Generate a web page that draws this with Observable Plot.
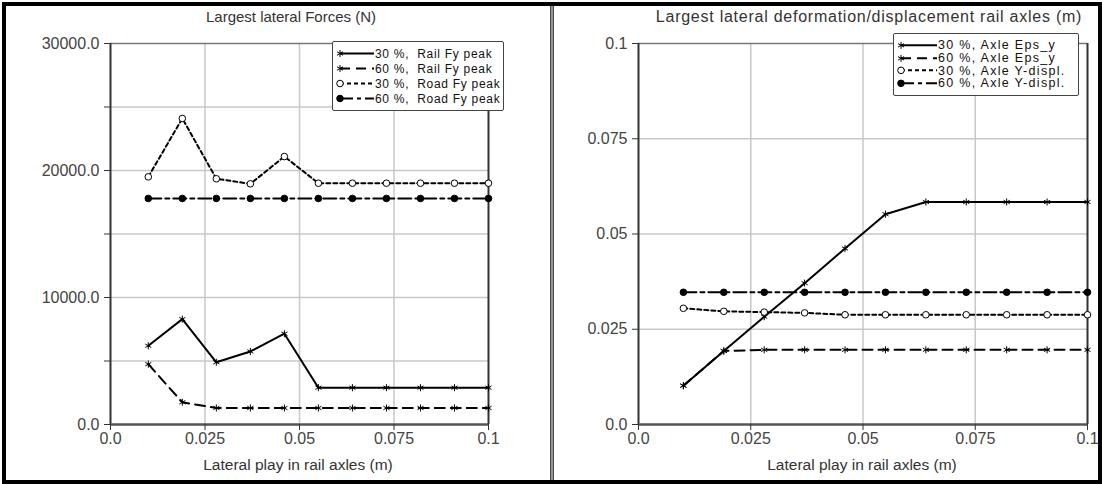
<!DOCTYPE html>
<html><head><meta charset="utf-8">
<script src="https://cdn.jsdelivr.net/npm/d3@7"></script>
<script src="https://cdn.jsdelivr.net/npm/@observablehq/plot@0.6"></script>
<style>
body{margin:0;background:#fff;font-family:"Liberation Sans",Arial,sans-serif;}
#frame{position:absolute;left:0;top:0;width:1102px;height:484px;overflow:hidden;background:#fff;}
.border{position:absolute;left:2px;top:2px;width:1100px;height:482px;border:4px solid #000;box-sizing:border-box;z-index:5;pointer-events:none;}
.divider{position:absolute;left:550px;top:6px;width:4px;height:474px;background:#999;border-left:1.5px solid #444;border-right:1.5px solid #444;box-sizing:border-box;z-index:5;}
.panel{position:absolute;top:0;}
.title{position:absolute;color:#333;white-space:nowrap;transform:translateX(-50%);}
.xlab{position:absolute;font-size:15.5px;color:#333;white-space:nowrap;transform:translateX(-50%);}
.legend{position:absolute;border:1px solid #444;background:#fff;box-sizing:border-box;border-radius:2px;}
.legend .row{display:flex;align-items:center;white-space:nowrap;color:#111;}
.legend svg{flex:none;}
</style>
</head><body>
<div id="frame">
  <div class="border"></div>
  <div class="divider"></div>
</div>
<script>
// ---- data ----
const xPlay = [0.01, 0.019, 0.028, 0.037, 0.046, 0.055, 0.064, 0.073, 0.082, 0.091, 0.1];

const railFy30 = [6200, 8300, 4900, 5750, 7150, 2900, 2900, 2900, 2900, 2900, 2900];
const railFy60 = [4750, 1750, 1300, 1300, 1300, 1300, 1300, 1300, 1300, 1300, 1300];
const roadFy30 = [19500, 24100, 19350, 18950, 21100, 19000, 19000, 19000, 19000, 19000, 19000];
const roadFy60 = [17800, 17800, 17800, 17800, 17800, 17800, 17800, 17800, 17800, 17800, 17800];

const epsY30 = [0.0102, 0.0193, 0.0283, 0.0371, 0.0462, 0.0552, 0.0584, 0.0584, 0.0584, 0.0584, 0.0584];
const epsY60 = [0.0102, 0.0193, 0.0196, 0.0196, 0.0196, 0.0196, 0.0196, 0.0196, 0.0196, 0.0196, 0.0196];
const yDispl30 = [0.0305, 0.0297, 0.0295, 0.0293, 0.0288, 0.0288, 0.0288, 0.0288, 0.0288, 0.0288, 0.0288];
const yDispl60 = [0.0347, 0.0347, 0.0347, 0.0347, 0.0347, 0.0347, 0.0347, 0.0347, 0.0347, 0.0347, 0.0347];

const leftNames = ["30 %,  Rail Fy peak", "60 %,  Rail Fy peak", "30 %,  Road Fy peak", "60 %,  Road Fy peak"];
const rightNames = ["30 %, Axle Eps_y", "60 %, Axle Eps_y", "30 %, Axle Y-displ.", "60 %, Axle Y-displ."];

const xTicks = [0, 0.025, 0.05, 0.075, 0.1];
const xTickLabels = ["0.0", "0.025", "0.05", "0.075", "0.1"];
const leftYTicks = [0, 5000, 10000, 15000, 20000, 25000, 30000];
const leftYTickLabels = ["0.0", "", "10000.0", "", "20000.0", "", "30000.0"];
const rightYTicks = [0, 0.025, 0.05, 0.075, 0.1];
const rightYTickLabels = ["0.0", "0.025", "0.05", "0.075", "0.1"];

const leftTitle = "Largest lateral Forces (N)";
const rightTitle = "Largest lateral deformation/displacement rail axles (m)";
const xLabel = "Lateral play in rail axles (m)";

// ---- styles ----
const seriesStyle = [
  {dash: null, symbol: "asterisk", fill: "none"},
  {dash: "10,6", symbol: "asterisk", fill: "none"},
  {dash: "4,3", symbol: "circle", fill: "white"},
  {dash: "13,4,4,4", symbol: "circle", fill: "black"}
];

function seriesMarks(values, k) {
  const st = seriesStyle[k];
  const data = xPlay.map((x, i) => ({x, y: values[i]}));
  const marks = [
    Plot.line(data, {x: "x", y: "y", stroke: "black", strokeWidth: 2, strokeDasharray: st.dash || undefined})
  ];
  if (st.symbol === "asterisk") {
    marks.push(Plot.dot(data, {x: "x", y: "y", symbol: "asterisk", r: 3.3, stroke: "black", strokeWidth: 1}));
  } else {
    marks.push(Plot.dot(data, {x: "x", y: "y", symbol: "circle", r: 3.3, stroke: "black", strokeWidth: 1, fill: st.fill}));
  }
  return marks;
}

function makePanel(opts) {
  const {width, marginLeft, marginRight, yDomain, yTicks, yLabels, gridY, series} = opts;
  return Plot.plot({
    width, height: 484,
    marginTop: 43, marginBottom: 60, marginLeft, marginRight,
    style: {fontFamily: "'Liberation Sans', Arial, sans-serif", fontSize: "16px", color: "#333", background: "transparent", overflow: "visible"},
    x: {domain: [0, 0.1]},
    y: {domain: yDomain},
    marks: [
      Plot.gridY(gridY, {stroke: "#c8c8c8", strokeOpacity: 1, strokeWidth: 1.5}),
      Plot.gridX([0.025, 0.05, 0.075], {stroke: "#c8c8c8", strokeOpacity: 1, strokeWidth: 1.5}),
      Plot.ruleY([yDomain[1]], {stroke: "#777", strokeWidth: 1.5}),
      Plot.ruleX([0.1], {stroke: "#333", strokeWidth: 2}),
      Plot.ruleX([0], {stroke: "#333", strokeWidth: 2}),
      Plot.ruleY([0], {stroke: "#555", strokeWidth: 2.5}),
      Plot.axisY({ticks: yTicks, tickSize: 6, tickPadding: 5, stroke: "#333",
        tickFormat: d => yLabels[yTicks.indexOf(d)], label: null, fill: "#444"}),
      Plot.axisX({ticks: xTicks, tickSize: 6, tickPadding: 2, stroke: "#333",
        tickFormat: d => xTickLabels[xTicks.indexOf(d)], label: null, fill: "#444"}),
      ...series.flatMap((v, k) => seriesMarks(v, k))
    ]
  });
}

const frame = document.getElementById("frame");

function place(el, left) {
  const d = document.createElement("div");
  d.className = "panel";
  d.style.left = left + "px";
  d.appendChild(el);
  frame.appendChild(d);
}

const leftPlot = makePanel({
  width: 550, marginLeft: 110, marginRight: 62,
  yDomain: [0, 30000], yTicks: leftYTicks, yLabels: leftYTickLabels,
  gridY: [5000, 10000, 15000, 20000, 25000],
  series: [railFy30, railFy60, roadFy30, roadFy60]
});
place(leftPlot, 0);

const rightPlot = makePanel({
  width: 548, marginLeft: 84, marginRight: 15,
  yDomain: [0, 0.1], yTicks: rightYTicks, yLabels: rightYTickLabels,
  gridY: [0.025, 0.05, 0.075],
  series: [epsY30, epsY60, yDispl30, yDispl60]
});
place(rightPlot, 554);

function addText(cls, text, x, y, size, spacing) {
  const d = document.createElement("div");
  d.className = cls;
  d.textContent = text;
  d.style.left = x + "px";
  d.style.top = y + "px";
  if (size) d.style.fontSize = size + "px";
  if (spacing) d.style.letterSpacing = spacing + "px";
  frame.appendChild(d);
}
addText("title", leftTitle, 291, 8, 15);
addText("title", rightTitle, 869, 8, 16, 0.75);
addText("xlab", xLabel, 298, 456);
addText("xlab", xLabel, 862, 456);

function legendSample(k, w, h) {
  const st = seriesStyle[k];
  const ns = "http://www.w3.org/2000/svg";
  const svg = document.createElementNS(ns, "svg");
  svg.setAttribute("width", w); svg.setAttribute("height", h);
  const cy = h / 2;
  const line = document.createElementNS(ns, "line");
  line.setAttribute("x1", 5); line.setAttribute("x2", w - 1);
  line.setAttribute("y1", cy); line.setAttribute("y2", cy);
  line.setAttribute("stroke", "black"); line.setAttribute("stroke-width", 2);
  if (st.dash) line.setAttribute("stroke-dasharray", st.dash);
  svg.appendChild(line);
  const p = document.createElementNS(ns, "path");
  if (st.symbol === "asterisk") {
    p.setAttribute("d", d3.symbol(d3.symbolAsterisk, 34)());
    p.setAttribute("fill", "none"); p.setAttribute("stroke", "black");
  } else {
    p.setAttribute("d", d3.symbol(d3.symbolCircle, 34)());
    p.setAttribute("fill", st.fill); p.setAttribute("stroke", "black");
  }
  p.setAttribute("transform", `translate(5,${cy})`);
  svg.appendChild(p);
  return svg;
}

function addLegend(names, left, top, width, rowH, fontSize, spacing, sampleW, padTop) {
  const box = document.createElement("div");
  box.className = "legend";
  box.style.left = left + "px"; box.style.top = top + "px"; box.style.width = width + "px";
  box.style.padding = padTop + "px 2px " + padTop + "px 2px";
  names.forEach((n, k) => {
    const row = document.createElement("div");
    row.className = "row";
    row.style.height = rowH + "px";
    row.style.fontSize = fontSize + "px";
    row.style.letterSpacing = spacing + "px";
    row.appendChild(legendSample(k, sampleW, rowH));
    const s = document.createElement("span");
    s.textContent = n;
    s.style.whiteSpace = "pre";
    row.appendChild(s);
    box.appendChild(row);
  });
  frame.appendChild(box);
}
addLegend(leftNames, 332, 41, 172, 15, 12, 0.7, 40, 4);
addLegend(rightNames, 893, 33, 186, 12.7, 12.5, 1.3, 42, 5);
</script>
</body></html>
